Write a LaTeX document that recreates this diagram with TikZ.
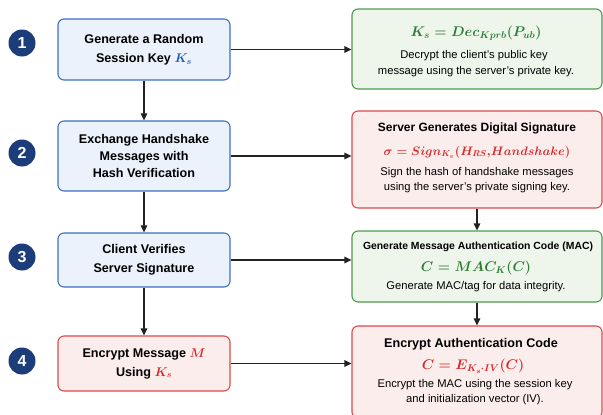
\documentclass[tikz,border=0pt]{standalone}
\usepackage{fix-cm}
\usepackage{amsmath}
\usepackage[no-math]{fontspec}
\setmainfont{Liberation Sans}
\usetikzlibrary{arrows.meta}
\definecolor{bluefill}{HTML}{EBF2FB}
\definecolor{blueline}{HTML}{3D6FC2}
\definecolor{greenfill}{HTML}{EEF6EC}
\definecolor{greenline}{HTML}{4E9A4C}
\definecolor{redfill}{HTML}{FCEDED}
\definecolor{redline}{HTML}{DC4A4A}
\definecolor{navy}{HTML}{1C3C7A}
\definecolor{mgreen}{HTML}{2E7D32}
\definecolor{mred}{HTML}{D42A2A}
\definecolor{mblue}{HTML}{1E5BB8}
\definecolor{linecol}{HTML}{222222}
\begin{document}
\begin{tikzpicture}[x=1pt,y=-1pt,
  basebox/.style={line width=1.1pt, rounded corners=6pt, inner sep=0pt, align=center},
  lblue/.style={basebox, draw=blueline, fill=bluefill, minimum width=172pt, font=\fontsize{12.6}{19}\selectfont\bfseries},
  lred/.style={basebox, draw=redline, fill=redfill, minimum width=172pt, font=\fontsize{12.6}{19}\selectfont\bfseries},
  rgreen/.style={basebox, draw=greenline, fill=greenfill, minimum width=250pt},
  rred/.style={basebox, draw=redline, fill=redfill, minimum width=250pt},
  numc/.style={circle, fill=navy, minimum size=27pt, inner sep=0pt, text=white, font=\fontsize{16}{18}\selectfont\bfseries},
  ttl/.style={font=\fontsize{12}{13}\selectfont\bfseries, inner sep=0pt},
  body/.style={font=\fontsize{11.2}{13}\selectfont, inner sep=0pt},
  frm/.style={font=\fontsize{14}{16}\selectfont\boldmath, inner sep=0pt},
  conn/.style={draw=linecol, line width=1.1pt, -{Triangle[length=7pt,width=6.5pt]}}
]
\useasboundingbox (0,0) rectangle (603,415);
\clip (0,0) rectangle (603,415);

% step numbers
\node[numc] (n1) at (22,43) {1};
\node[numc] (n2) at (22,153) {2};
\node[numc] (n3) at (22,257) {3};
\node[numc] (n4) at (22,361) {4};

% left boxes
\node[lblue, minimum height=61pt] (L1) at (144,49.5) {Generate a Random\\Session Key \textcolor{mblue}{$\boldsymbol{K_s}$}};
\node[lblue, minimum height=70pt] (L2) at (144,156) {Exchange Handshake\\[-2pt]Messages with\\[-2pt]Hash Verification};
\node[lblue, minimum height=54pt] (L3) at (144,260) {Client Verifies\\Server Signature};
\node[lred, minimum height=55pt] (L4) at (144,363.5) {Encrypt Message \textcolor{mred}{$\boldsymbol{M}$}\\Using \textcolor{mred}{$\boldsymbol{K_s}$}};

% right boxes
\node[rgreen, minimum height=80pt] (R1) at (477,49) {};
\node[rred, minimum height=97pt] (R2) at (477,159.5) {};
\node[rgreen, minimum height=71pt] (R3) at (477,266.5) {};
\node[rred, minimum height=92pt] (R4) at (477,372) {};

% R1 text
\node[frm, text=mgreen] (f1) at (476,33) {$K_s = Dec_{Kprb}(P_{ub})$};
\node[body] (b1a) at (474,56) {Decrypt the client’s public key};
\node[body] (b1b) at (476,72) {message using the server’s private key.};

% R2 text
\node[ttl] (t2) at (477,128) {Server Generates Digital Signature};
\node[frm, text=mred, font=\fontsize{12.3}{14}\selectfont\boldmath] (f2) at (477,152) {$\sigma = Sign_{K_v}(H_{RS},\! Handshake)$};
\node[body] (b2a) at (477,173) {Sign the hash of handshake messages};
\node[body] (b2b) at (477,188) {using the server’s private signing key.};

% R3 text
\node[ttl, font=\fontsize{10.4}{12}\selectfont\bfseries] (t3) at (478,247) {Generate Message Authentication Code (MAC)};
\node[frm, text=mgreen] (f3) at (476,268) {$C = MAC_K(C)$};
\node[body] (b3) at (476,287) {Generate MAC/tag for data integrity.};

% R4 text
\node[ttl, font=\fontsize{12.6}{14}\selectfont\bfseries] (t4) at (471,344) {Encrypt Authentication Code};
\node[frm, text=mred] (f4) at (473,366) {$C = E_{K_s\cdot IV}(C)$};
\node[body] (b4a) at (475,385) {Encrypt the MAC using the session key};
\node[body] (b4b) at (475,400) {and initialization vector (IV).};

% connectors
\draw[conn] (L1) -- (L2);
\draw[conn] (L2) -- (L3);
\draw[conn] (L3) -- (L4);
\draw[conn] (R2) -- (R3);
\draw[conn] (R3) -- (R4);
\draw[conn] (L1.east) -- (L1.east -| R1.west);
\draw[conn] (L2.east) -- (L2.east -| R2.west);
\draw[conn] (L3.east) -- (L3.east -| R3.west);
\draw[conn] (L4.east) -- (L4.east -| R4.west);
\end{tikzpicture}
\end{document}
